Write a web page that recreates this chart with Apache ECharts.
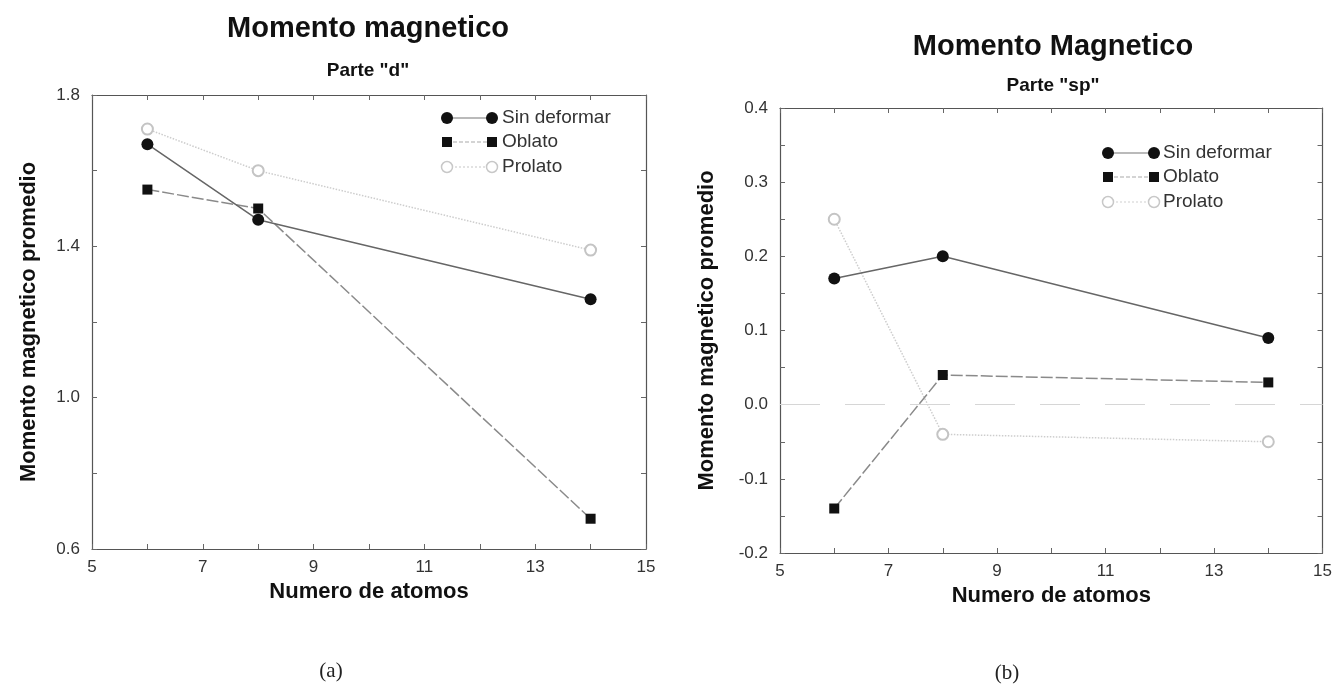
<!DOCTYPE html>
<html>
<head>
<meta charset="utf-8">
<script src="https://cdn.jsdelivr.net/npm/echarts@6/dist/echarts.min.js"></script>
<style>
html,body{margin:0;padding:0;background:#fff;}
#chart{width:1335px;height:687px;}
</style>
</head>
<body>
<div id="chart"></div>
<script>
// ---- data ----
const atoms = [6, 8, 14];
const seriesNames = ['Sin deformar', 'Oblato', 'Prolato'];
const dSin = [1.67, 1.47, 1.26];
const dObl = [1.55, 1.50, 0.68];
const dPro = [1.71, 1.60, 1.39];
const spSin = [0.17, 0.20, 0.09];
const spObl = [-0.14, 0.04, 0.03];
const spPro = [0.25, -0.04, -0.05];
const titlesMain = ['Momento magnetico', 'Momento Magnetico'];
const titlesSub = ['Parte "d"', 'Parte "sp"'];
const xName = 'Numero de atomos';
const yName = 'Momento magnetico promedio';
const captions = ['(a)', '(b)'];

const SANS = '"Liberation Sans", Arial, sans-serif';
const pts = (ys) => atoms.map((x, i) => [x, ys[i]]);

const styles = [
  {symbol: 'circle', symbolSize: 12, itemStyle: {color: '#111'}, lineStyle: {color: '#666', width: 1.5, type: 'solid'}, z: 4},
  {symbol: 'rect', symbolSize: 10, itemStyle: {color: '#111'}, lineStyle: {color: '#8a8a8a', width: 1.5, type: [12, 3]}, z: 3},
  {symbol: 'emptyCircle', symbolSize: 11, itemStyle: {color: '#c4c4c4', borderColor: '#c4c4c4', borderWidth: 1.5}, lineStyle: {color: '#cdcdcd', width: 1.5, type: 'dotted'}, z: 2}
];

function mkSeries(gi, arrs, extra) {
  return arrs.map((ys, k) => Object.assign({
    type: 'line', name: seriesNames[k], xAxisIndex: gi * 2, yAxisIndex: gi * 2,
    data: pts(ys), showSymbol: true, animation: false
  }, styles[k], k === 0 && extra ? extra : {}));
}

function xAxes(gi) {
  const base = {
    type: 'value', gridIndex: gi, min: 5, max: 15, interval: 2,
    axisLine: {show: true, onZero: false, lineStyle: {color: '#555', width: 1.2}},
    axisTick: {show: true, inside: true, length: 5, lineStyle: {color: '#666'}},
    minorTick: {show: true, splitNumber: 2, length: 5, lineStyle: {color: '#666'}},
    splitLine: {show: false}, minorSplitLine: {show: false}
  };
  return [
    Object.assign({}, base, {
      position: 'bottom',
      axisLabel: {color: '#333', fontSize: 17, fontFamily: SANS, margin: 10},
      name: xName, nameLocation: 'middle', nameGap: 32,
      nameTextStyle: {color: '#111', fontSize: 22, fontWeight: 'bold', fontFamily: SANS}
    }),
    Object.assign({}, base, {position: 'top', axisLabel: {show: false}})
  ];
}

function yAxes(gi, min, max, interval, nameGap) {
  const base = {
    type: 'value', gridIndex: gi, min: min, max: max, interval: interval,
    axisLine: {show: true, onZero: false, lineStyle: {color: '#555', width: 1.2}},
    axisTick: {show: true, inside: true, length: 5, lineStyle: {color: '#666'}},
    minorTick: {show: true, splitNumber: 2, length: 5, lineStyle: {color: '#666'}},
    splitLine: {show: false}, minorSplitLine: {show: false}
  };
  return [
    Object.assign({}, base, {
      position: 'left',
      axisLabel: {color: '#333', fontSize: 17, fontFamily: SANS, margin: 12, formatter: v => v.toFixed(1)},
      name: yName, nameLocation: 'middle', nameGap: nameGap, nameRotate: 90,
      nameTextStyle: {color: '#111', fontSize: 22, fontWeight: 'bold', fontFamily: SANS}
    }),
    Object.assign({}, base, {position: 'right', axisLabel: {show: false}})
  ];
}

function legend(xa, xb, tx, ys) {
  const els = [];
  const font = '19px ' + SANS;
  els.push({type: 'line', shape: {x1: xa, y1: ys[0], x2: xb, y2: ys[0]}, style: {stroke: '#777', lineWidth: 1.2}});
  [xa, xb].forEach(x => els.push({type: 'circle', shape: {cx: x, cy: ys[0], r: 6}, style: {fill: '#111'}}));
  els.push({type: 'line', shape: {x1: xa, y1: ys[1], x2: xb, y2: ys[1]}, style: {stroke: '#aaa', lineWidth: 1.2, lineDash: [4, 2]}});
  [xa, xb].forEach(x => els.push({type: 'rect', shape: {x: x - 5, y: ys[1] - 5, width: 10, height: 10}, style: {fill: '#111'}}));
  els.push({type: 'line', shape: {x1: xa, y1: ys[2], x2: xb, y2: ys[2]}, style: {stroke: '#cfcfcf', lineWidth: 1.2, lineDash: [2, 2]}});
  [xa, xb].forEach(x => els.push({type: 'circle', shape: {cx: x, cy: ys[2], r: 5.5}, style: {fill: '#fff', stroke: '#c8c8c8', lineWidth: 1.5}}));
  seriesNames.forEach((n, i) => els.push({type: 'text', x: tx, y: ys[i], style: {text: n, font: font, fill: '#333', textAlign: 'left', textVerticalAlign: 'middle', verticalAlign: 'middle'}}));
  return els;
}

function txt(s, x, y, font, fill) {
  return {type: 'text', x: x, y: y, style: {text: s, font: font, fill: fill || '#111', textAlign: 'center', textVerticalAlign: 'middle', align: 'center', verticalAlign: 'middle'}};
}

const chart = echarts.init(document.getElementById('chart'), null, {renderer: 'canvas'});
const option = {
  backgroundColor: '#fff',
  animation: false,
  grid: [
    {left: 92, top: 95, width: 554, height: 454},
    {left: 780, top: 108, width: 545, height: 445}
  ],
  xAxis: [].concat(xAxes(0), xAxes(1)),
  yAxis: [].concat(yAxes(0, 0.6, 1.8, 0.4, 52), yAxes(1, -0.2, 0.4, 0.1, 62)),
  series: [].concat(
    mkSeries(0, [dSin, dObl, dPro]),
    mkSeries(1, [spSin, spObl, spPro], {
      markLine: {silent: true, symbol: 'none', label: {show: false},
        lineStyle: {color: '#d6d6d6', type: [40, 25], width: 1.2},
        data: [{yAxis: 0}]}
    })
  ),
  graphic: [].concat(
    [
      txt(titlesMain[0], 368, 29, 'bold 29px ' + SANS),
      txt(titlesSub[0], 368, 71, 'bold 19px ' + SANS),
      txt(titlesMain[1], 1053, 47, 'bold 29px ' + SANS),
      txt(titlesSub[1], 1053, 86, 'bold 19px ' + SANS),
      txt(captions[0], 331, 671, '21px "Liberation Serif", serif', '#222'),
      txt(captions[1], 1007, 673, '21px "Liberation Serif", serif', '#222')
    ],
    legend(447, 492, 502, [118, 142, 167]),
    legend(1108, 1154, 1163, [153, 177, 202])
  )
};
chart.setOption(option);
</script>
</body>
</html>
